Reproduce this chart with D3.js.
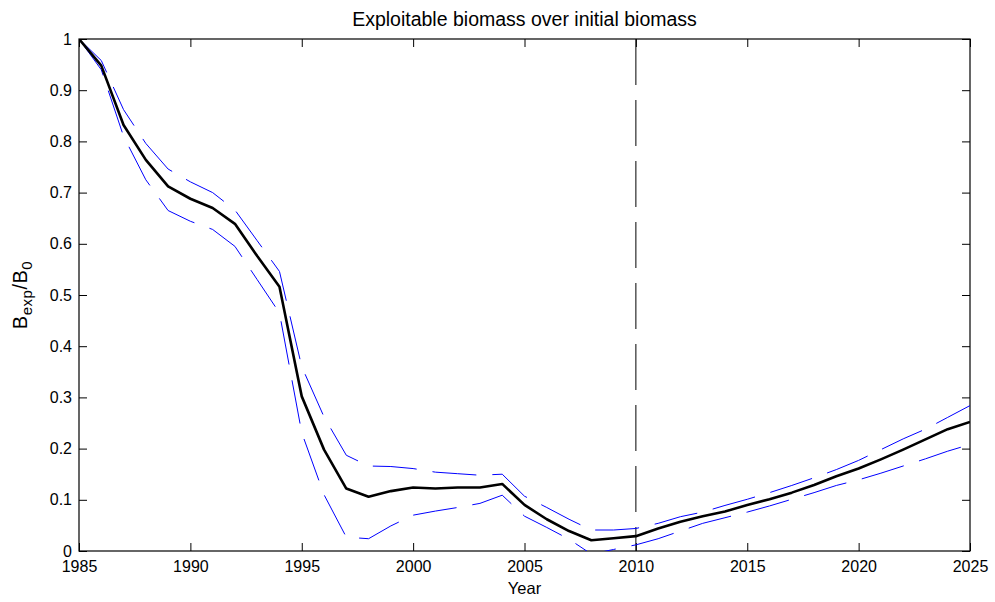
<!DOCTYPE html>
<html>
<head>
<meta charset="utf-8">
<script src="https://cdn.jsdelivr.net/npm/d3@7"></script>
<style>
  html, body { margin: 0; padding: 0; background: #fff; }
  svg { display: block; font-family: "Liberation Sans", Arial, sans-serif; }
</style>
</head>
<body>
<svg id="chart" width="995" height="602"></svg>
<script>
// Years of the assessment / projection
const years = d3.range(1985, 2026);

// Median exploitable biomass relative to B0
const median = [
  1.000, 0.948, 0.832, 0.764, 0.712, 0.688, 0.670, 0.639, 0.576, 0.516,
  0.302, 0.198, 0.122, 0.106, 0.117, 0.124, 0.122, 0.124, 0.124, 0.131,
  0.090, 0.062, 0.039, 0.021, 0.025, 0.029, 0.044, 0.057, 0.068, 0.077,
  0.090, 0.101, 0.114, 0.129, 0.146, 0.161, 0.179, 0.198, 0.218, 0.238,
  0.252
];

// Upper bound of the interval
const upper = [
  1.000, 0.958, 0.862, 0.796, 0.746, 0.721, 0.700, 0.666, 0.606, 0.546,
  0.360, 0.262, 0.187, 0.166, 0.165, 0.161, 0.154, 0.151, 0.148, 0.150,
  0.107, 0.085, 0.062, 0.041, 0.041, 0.044, 0.054, 0.067, 0.076, 0.089,
  0.101, 0.114, 0.128, 0.143, 0.159, 0.177, 0.198, 0.219, 0.238, 0.261,
  0.284
];

// Lower bound of the interval
const lower = [
  1.000, 0.940, 0.810, 0.725, 0.665, 0.644, 0.628, 0.595, 0.530, 0.465,
  0.231, 0.110, 0.027, 0.024, 0.049, 0.070, 0.078, 0.085, 0.093, 0.109,
  0.068, 0.046, 0.023, -0.006, 0.003, 0.012, 0.024, 0.039, 0.054, 0.065,
  0.076, 0.088, 0.101, 0.114, 0.128, 0.139, 0.152, 0.166, 0.180, 0.195,
  0.208
];

const xTicks = d3.range(1985, 2026, 5);
const yTicks = d3.range(0, 11).map(d => d / 10);
const projectionStart = 2010;

const titleText = "Exploitable biomass over initial biomass";
const xLabel = "Year";

const svg = d3.select("#chart");
const pLeft = 79, pRight = 970, pTop = 39, pBottom = 551;

const x = d3.scaleLinear().domain([1985, 2025]).range([pLeft, pRight]);
const y = d3.scaleLinear().domain([0, 1]).range([pBottom, pTop]);

svg.append("clipPath").attr("id", "plotClip")
  .append("rect").attr("x", pLeft).attr("y", pTop)
  .attr("width", pRight - pLeft).attr("height", pBottom - pTop);

const tickLen = 8;
const fontSize = 16;

// Bottom axis with inward ticks
const xAxisB = d3.axisBottom(x).tickValues(xTicks).tickFormat(d3.format("d"))
  .tickSizeInner(-tickLen).tickSizeOuter(0).tickPadding(9.5);
const gxb = svg.append("g").attr("transform", `translate(0,${pBottom})`).call(xAxisB);

// Top axis, ticks only
const xAxisT = d3.axisTop(x).tickValues(xTicks).tickFormat("")
  .tickSizeInner(-tickLen).tickSizeOuter(0);
const gxt = svg.append("g").attr("transform", `translate(0,${pTop})`).call(xAxisT);

// Left axis
const yAxisL = d3.axisLeft(y).tickValues(yTicks)
  .tickFormat(d => d === 0 ? "0" : d === 1 ? "1" : d3.format(".1f")(d))
  .tickSizeInner(-tickLen).tickSizeOuter(0).tickPadding(7);
const gyl = svg.append("g").attr("transform", `translate(${pLeft},0)`).call(yAxisL);

// Right axis, ticks only
const yAxisR = d3.axisRight(y).tickValues(yTicks).tickFormat("")
  .tickSizeInner(-tickLen).tickSizeOuter(0);
const gyr = svg.append("g").attr("transform", `translate(${pRight},0)`).call(yAxisR);

[gxb, gxt, gyl, gyr].forEach(g => {
  g.select(".domain").remove();
  g.selectAll(".tick line").attr("stroke", "#000").attr("stroke-width", 1);
  g.selectAll(".tick text").attr("fill", "#000")
    .style("font-size", fontSize + "px")
    .style("font-family", "'Liberation Sans', Arial, sans-serif");
});

// Plot box
svg.append("rect").attr("x", pLeft).attr("y", pTop)
  .attr("width", pRight - pLeft).attr("height", pBottom - pTop)
  .attr("fill", "none").attr("stroke", "#000").attr("stroke-width", 1.2);

const plot = svg.append("g").attr("clip-path", "url(#plotClip)");

// Start of projection period
plot.append("line")
  .attr("x1", x(projectionStart)).attr("x2", x(projectionStart))
  .attr("y1", pTop).attr("y2", pBottom)
  .attr("stroke", "#000").attr("stroke-width", 1)
  .attr("stroke-dasharray", "46,15");

const line = d3.line().x((d, i) => x(years[i])).y(d => y(d));

[upper, lower].forEach(series => {
  plot.append("path").datum(series)
    .attr("d", line)
    .attr("fill", "none")
    .attr("stroke", "#0000ff")
    .attr("stroke-width", 1)
    .attr("stroke-dasharray", "44,16");
});

plot.append("path").datum(median)
  .attr("d", line)
  .attr("fill", "none")
  .attr("stroke", "#000")
  .attr("stroke-width", 2.6)
  .attr("stroke-linejoin", "round");

// Title
svg.append("text")
  .attr("x", (pLeft + pRight) / 2).attr("y", 26)
  .attr("text-anchor", "middle")
  .style("font-size", "19.5px")
  .text(titleText);

// X label
svg.append("text")
  .attr("x", (pLeft + pRight) / 2).attr("y", 594)
  .attr("text-anchor", "middle")
  .style("font-size", "16.5px")
  .text(xLabel);

// Y label: B_exp / B_0
const yl = svg.append("text")
  .attr("transform", `translate(27,${(pTop + pBottom) / 2}) rotate(-90)`)
  .attr("text-anchor", "middle")
  .style("font-size", "20px")
  .style("letter-spacing", "0.5px");
yl.append("tspan").text("B");
yl.append("tspan").attr("dy", 5).style("font-size", "15px").text("exp");
yl.append("tspan").attr("dy", -5).text("/B");
yl.append("tspan").attr("dy", 5).style("font-size", "15px").text("0");
</script>
</body>
</html>
